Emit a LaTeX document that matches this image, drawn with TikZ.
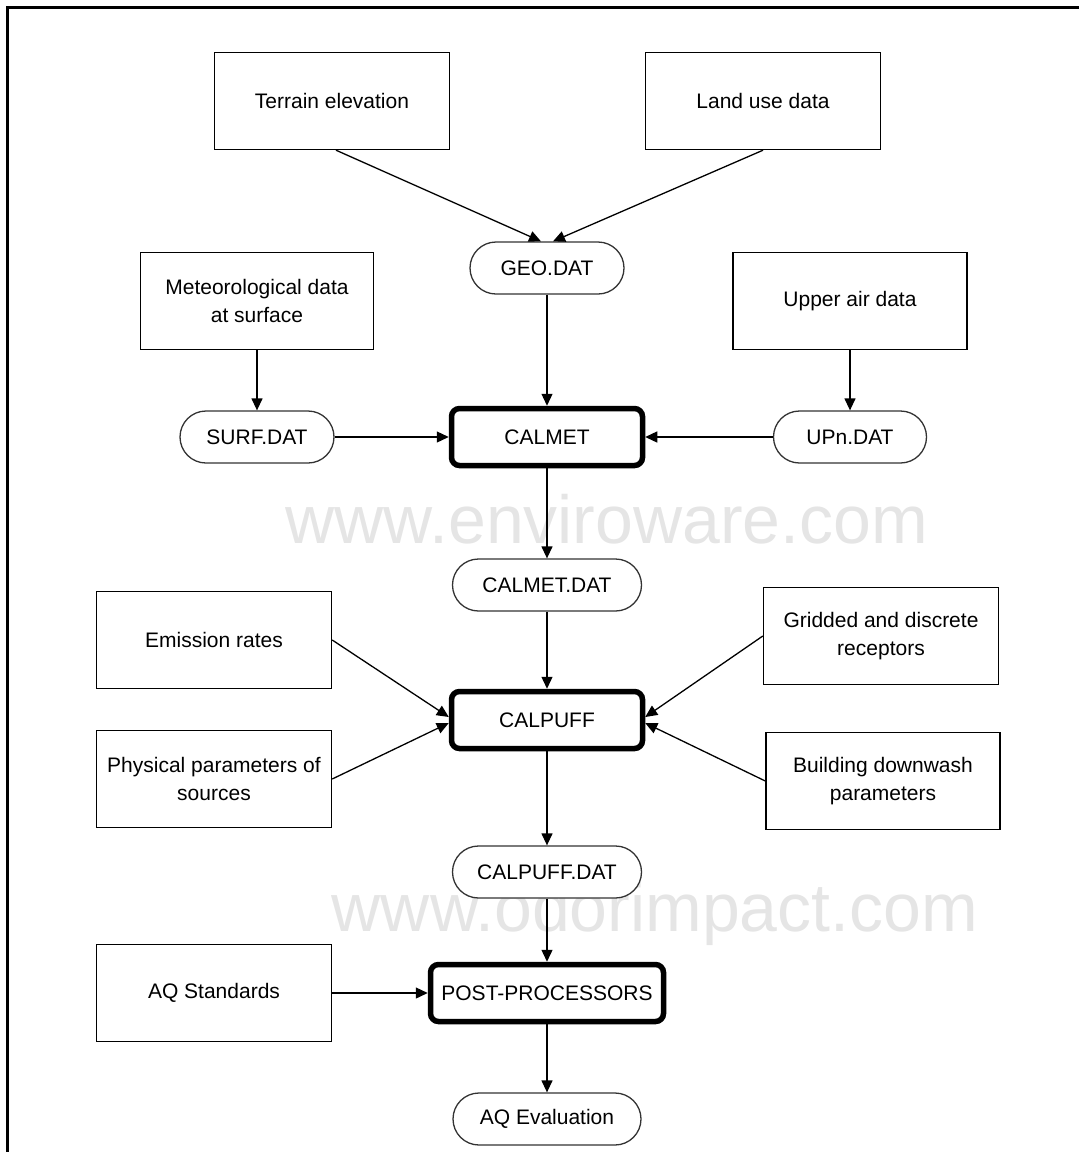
\documentclass[tikz,border=0pt]{standalone}
\usepackage{fontspec}
\setmainfont{Liberation Sans}
\usetikzlibrary{shapes.misc,arrows.meta,calc}
\begin{document}
\begin{tikzpicture}[x=1pt,y=-1pt,
  every node/.style={font=\fontsize{21}{28}\selectfont, align=center, inner sep=0pt},
  inbox/.style={draw, line width=1.4pt, minimum width=235pt, minimum height=97pt},
  pill/.style={draw=black!80, fill=white, line width=1.3pt, rounded rectangle, minimum height=52pt},
  proc/.style={draw, fill=white, line width=5.5pt, rounded corners=8pt, minimum width=191pt, minimum height=57pt},
  arr/.style={line width=1.3pt, -{Triangle[length=12pt,width=11pt]}},
  wm/.style={font=\fontsize{68}{68}\selectfont, text=black!10, anchor=base}
]
\useasboundingbox (0,0) rectangle (1079,1152);
% watermarks
\node[wm] (wm1) at (607,543) {www.enviroware.com};
\node[wm] (wm2) at (655,931) {www.odorimpact.com};
% frame
\draw[line width=3pt] (7,1152) -- (7,7) -- (1079,7);
% input boxes
\node[inbox] (terrain) at (332,101) {Terrain elevation};
\node[inbox] (landuse) at (763,101) {Land use data};
\node[inbox, minimum width=233pt] (met) at (257,301) {Meteorological data\\at surface};
\node[inbox, minimum width=234pt] (upper) at (850,301) {Upper air data};
\node[inbox] (emission) at (214,640) {Emission rates};
\node[inbox] (grid) at (881,636) {Gridded and discrete\\receptors};
\node[inbox] (phys) at (214,779) {Physical parameters of\\sources};
\node[inbox, minimum width=234pt] (build) at (883,781) {Building downwash\\parameters};
\node[inbox] (aqstd) at (214,993) {AQ Standards};
% data files
\node[pill, minimum width=154pt] (geo) at (547,268) {GEO.DAT};
\node[pill, minimum width=154pt] (surf) at (257,437) {SURF.DAT};
\node[pill, minimum width=153pt] (upn) at (850,437) {UPn.DAT};
\node[pill, minimum width=189pt] (calmetdat) at (547,585) {CALMET.DAT};
\node[pill, minimum width=189pt] (calpuffdat) at (547,872) {CALPUFF.DAT};
\node[pill, minimum width=188pt] (aqeval) at (547,1119) {AQ Evaluation};
% processors
\node[proc] (calmet) at (547,437) {CALMET};
\node[proc] (calpuff) at (547,720) {CALPUFF};
\node[proc, minimum width=233pt] (post) at (547,993) {POST-PROCESSORS};
% connectors
\draw[arr] ([xshift=4pt]terrain.south) -- ([xshift=-6pt]geo.north);
\draw[arr] (landuse.south) -- ([xshift=6pt]geo.north);
\draw[arr] (geo.south) -- (calmet.north);
\draw[arr] (met.south) -- (surf.north);
\draw[arr] (upper.south) -- (upn.north);
\draw[arr] (surf.east) -- (calmet.west);
\draw[arr] (upn.west) -- (calmet.east);
\draw[arr] (calmet.south) -- (calmetdat.north);
\draw[arr] (calmetdat.south) -- (calpuff.north);
\draw[arr] (emission.east) -- ([yshift=3pt]calpuff.west);
\draw[arr] (phys.east) -- ([yshift=-3pt]calpuff.west);
\draw[arr] (grid.west) -- ([yshift=3pt]calpuff.east);
\draw[arr] (build.west) -- ([yshift=-3pt]calpuff.east);
\draw[arr] (calpuff.south) -- (calpuffdat.north);
\draw[arr] (calpuffdat.south) -- (post.north);
\draw[arr] (aqstd.east) -- (post.west);
\draw[arr] (post.south) -- (aqeval.north);
\end{tikzpicture}
\end{document}
